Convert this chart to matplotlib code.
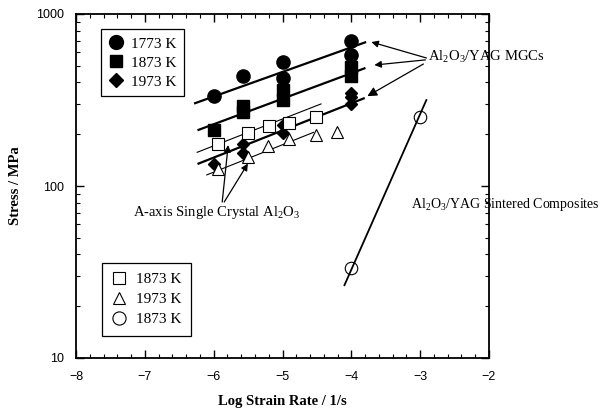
import matplotlib
matplotlib.use("Agg")
import matplotlib.pyplot as plt
import numpy as np
from matplotlib.lines import Line2D
from matplotlib.ticker import FixedLocator, NullFormatter, MultipleLocator

# ---- data ----
# Al2O3/YAG MGCs
mgc1773_x = [-6.0, -5.57, -5.0, -5.0, -4.0, -4.0]
mgc1773_y = [335, 435, 523, 423, 700, 578]
mgc1873_x = [-6.0, -5.57, -5.57, -5.0, -5.0, -4.0, -4.0]
mgc1873_y = [212, 290, 268, 362, 316, 492, 436]
mgc1973_x = [-6.0, -5.57, -5.57, -5.0, -5.0, -4.0, -4.0, -4.0]
mgc1973_y = [135, 175, 155, 226, 204, 349, 328, 298]

# A-axis single crystal Al2O3
sc1873_x = [-5.94, -5.50, -5.20, -4.90, -4.51]
sc1873_y = [175, 204, 223, 233, 251]
sc1973_x = [-5.93, -5.50, -5.21, -4.91, -4.51, -4.21]
sc1973_y = [125, 147, 171, 187, 198, 205]

# Al2O3/YAG sintered composites
sint_x = [-4.0, -3.0]
sint_y = [33.3, 251]

# fitted lines (start, end)
fit1773_x = [-6.27, -3.80]; fit1773_y = [303, 684]
fit1873_x = [-6.22, -3.81]; fit1873_y = [212, 483]
fit1973_x = [-6.22, -3.82]; fit1973_y = [135, 323]
fitsc1873_x = [-6.24, -4.44]; fitsc1873_y = [157, 300]
fitsc1973_x = [-6.10, -4.55]; fitsc1973_y = [116, 205]
fitsint_x = [-4.10, -2.91]; fitsint_y = [26.5, 316]

legend1_labels = ["1773 K", "1873 K", "1973 K"]
legend2_labels = ["1873 K", "1973 K", "1873 K"]

x_ticks = [-8, -7, -6, -5, -4, -3, -2]
y_ticks = [10, 100, 1000]

SERIF = ["Liberation Serif", "DejaVu Serif"]
SANS = ["Liberation Sans", "DejaVu Sans"]
AL2O3 = "Al$_\\mathregular{2}$O$_\\mathregular{3}$"

fig = plt.figure(figsize=(6.08, 4.13), dpi=100)
ax = fig.add_axes([76/608, 1-358/413, (489-76)/608, (358-14)/413])

# lines
ax.plot(fit1773_x, fit1773_y, color="black", lw=1.6)
ax.plot(fit1873_x, fit1873_y, color="black", lw=1.6)
ax.plot(fit1973_x, fit1973_y, color="black", lw=1.6)
ax.plot(fitsc1873_x, fitsc1873_y, color="black", lw=0.8)
ax.plot(fitsc1973_x, fitsc1973_y, color="black", lw=0.8)
ax.plot(fitsint_x, fitsint_y, color="black", lw=1.3)

# markers
ax.plot(mgc1773_x, mgc1773_y, "o", ms=9.5, color="black", ls="none")
ax.plot(mgc1873_x, mgc1873_y, "s", ms=8, color="black", ls="none")
ax.plot(mgc1973_x, mgc1973_y, "D", ms=6.5, color="black", ls="none")
ax.plot(sc1873_x, sc1873_y, "s", ms=8, mfc="white", mec="black", mew=0.8, ls="none")
ax.plot(sc1973_x, sc1973_y, "^", ms=8, mfc="white", mec="black", mew=0.8, ls="none")
ax.plot(sint_x, sint_y, "o", ms=9, mfc="none", mec="black", mew=0.8, ls="none")

ax.set_yscale("log")
ax.set_xlim(-8, -2)
ax.set_ylim(10, 1000)

ax.xaxis.set_major_locator(FixedLocator(x_ticks))
ax.xaxis.set_minor_locator(MultipleLocator(0.2))
ax.set_xticklabels(["\u2212%d" % abs(t) for t in x_ticks], family=SANS, fontsize=9)
ax.yaxis.set_major_locator(FixedLocator(y_ticks))
ax.set_yticklabels([str(t) for t in y_ticks], family=SANS, fontsize=9)
ax.yaxis.set_minor_formatter(NullFormatter())
ax.tick_params(which="both", direction="in", top=True, right=True)
ax.tick_params(which="major", length=6, width=1)
ax.tick_params(which="minor", length=3, width=0.8)
ax.tick_params(axis="x", which="major", pad=9)
ax.tick_params(axis="y", which="major", pad=8.5)
for sp in ax.spines.values():
    sp.set_linewidth(1.3)

ax.set_xlabel("Log Strain Rate / 1/s", family=SERIF, fontweight="bold", fontsize=10.5, labelpad=9)
ax.set_ylabel("Stress / MPa", family=SERIF, fontweight="bold", fontsize=10.5, labelpad=10)

# legends
h1 = [Line2D([], [], marker="o", ms=10, color="black", ls="none"),
      Line2D([], [], marker="s", ms=8.5, color="black", ls="none"),
      Line2D([], [], marker="D", ms=7, color="black", ls="none")]
leg1 = ax.legend(h1, legend1_labels, loc="upper left", bbox_to_anchor=(0.0598, 0.9555),
                 borderaxespad=0, frameon=True, fancybox=False, edgecolor="black", framealpha=1,
                 prop={"family": SERIF, "size": 11}, handlelength=1.0,
                 handletextpad=0.5, labelspacing=0.35, borderpad=0.5)
leg1.get_frame().set_linewidth(0.9)
ax.add_artist(leg1)

h2 = [Line2D([], [], marker="s", ms=8.5, mfc="white", mec="black", mew=0.8, ls="none"),
      Line2D([], [], marker="^", ms=9, mfc="white", mec="black", mew=0.8, ls="none"),
      Line2D([], [], marker="o", ms=9.5, mfc="white", mec="black", mew=0.8, ls="none")]
leg2 = ax.legend(h2, legend2_labels, loc="lower left", bbox_to_anchor=(0.0622, 0.064),
                 borderaxespad=0, frameon=True, fancybox=False, edgecolor="black", framealpha=1,
                 prop={"family": SERIF, "size": 11}, handlelength=1.0,
                 handletextpad=0.6, labelspacing=0.4, borderpad=0.65)
leg2.get_frame().set_linewidth(0.9)

# annotations
arrow_kw = dict(arrowstyle="-|>", color="black", lw=0.9, mutation_scale=10, shrinkA=0, shrinkB=0)
ax.text(-2.885, 562, AL2O3 + "/YAG MGCs", family=SERIF, fontsize=10.5, va="center", ha="left")
ax.annotate("", xy=(-3.709, 687), xytext=(-2.909, 555), arrowprops=arrow_kw)
ax.annotate("", xy=(-3.665, 505), xytext=(-2.924, 541), arrowprops=arrow_kw)
ax.annotate("", xy=(-3.767, 333), xytext=(-2.953, 512), arrowprops=dict(arrow_kw, mutation_scale=14))

ax.text(-5.953, 69.7, "A-axis Single Crystal " + AL2O3, family=SERIF, fontsize=10.5,
        va="center", ha="center")
ax.annotate("", xy=(-5.789, 173), xytext=(-5.876, 80.7), arrowprops=arrow_kw)
ax.annotate("", xy=(-5.503, 135), xytext=(-5.847, 80.7), arrowprops=arrow_kw)

ax.text(-3.132, 78.5, AL2O3 + "/YAG Sintered Composites", family=SERIF, fontsize=10,
        va="center", ha="left", clip_on=False)

fig.savefig("out.png", dpi=100)
